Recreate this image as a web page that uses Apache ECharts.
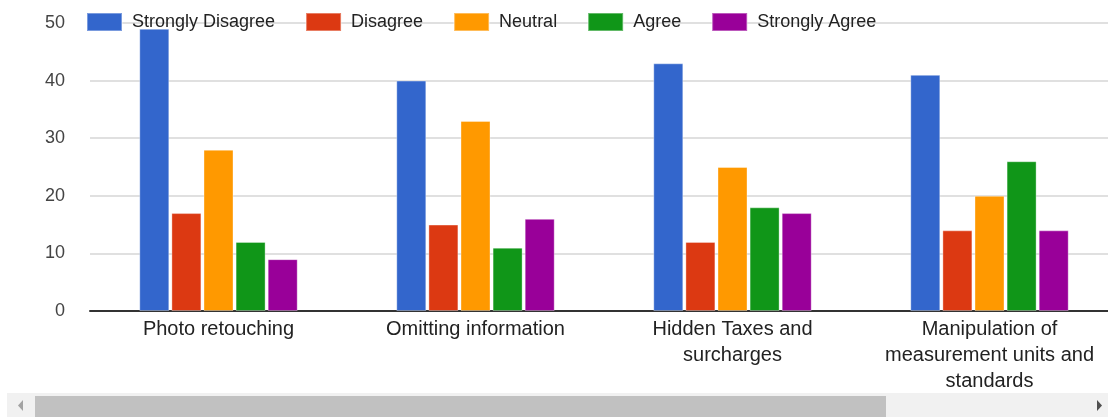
<!DOCTYPE html>
<html>
<head>
<meta charset="utf-8">
<title>Survey</title>
<script src="https://cdn.jsdelivr.net/npm/echarts@6/dist/echarts.min.js"></script>
<style>
  html, body { margin: 0; padding: 0; background: #fff; overflow: hidden; }
  /* the chart is a bit wider than the window, like a scrolled container */
  #main { width: 1118px; height: 417px; }
</style>
</head>
<body>
<div id="main"></div>
<script>
  // categories and answers
  const categories = ['Photo retouching', 'Omitting information', 'Hidden Taxes and\nsurcharges', 'Manipulation of\nmeasurement units and\nstandards'];
  const stronglyDisagree = [49, 40, 43, 41];
  const disagree = [17, 15, 12, 14];
  const neutral = [28, 33, 25, 20];
  const agree = [12, 11, 18, 26];
  const stronglyAgree = [9, 16, 17, 14];
  const yTicks = [0, 10, 20, 30, 40, 50];

  const names = ['Strongly Disagree', 'Disagree', 'Neutral', 'Agree', 'Strongly Agree'];
  const values = [stronglyDisagree, disagree, neutral, agree, stronglyAgree];
  const colors = ['#3366cc', '#dc3912', '#ff9900', '#109618', '#990099'];

  let myChart = echarts.init(document.getElementById('main'));

  let series = [];
  for (let i = 0; i < names.length; i++) {
    series.push({
      name: names[i],
      type: 'bar',
      data: values[i],
      barWidth: 30,
      barGap: '7%',
      itemStyle: {
        color: colors[i],
        borderColor: 'rgba(255,255,255,0.35)',
        borderWidth: 1
      }
    });
  }

  myChart.setOption({
    animation: false,
    textStyle: { fontFamily: '"Liberation Sans", Arial, sans-serif' },
    color: colors,
    legend: {
      data: names,
      left: 81,
      top: 7,
      itemWidth: 35,
      itemHeight: 18,
      itemGap: 30,
      icon: 'rect',
      textStyle: { fontSize: 18, color: '#222', padding: [0, 0, 0, 5] }
    },
    grid: {
      left: 90,
      right: 0,
      top: 23,
      bottom: 106,
      containLabel: false
    },
    xAxis: {
      type: 'category',
      data: categories,
      axisTick: { show: false },
      axisLine: { lineStyle: { color: '#333', width: 2 } },
      axisLabel: { fontSize: 20, color: '#222', lineHeight: 26, margin: 5, interval: 0 }
    },
    yAxis: {
      type: 'value',
      min: yTicks[0],
      max: yTicks[yTicks.length - 1],
      interval: 10,
      axisLine: { show: false },
      axisTick: { show: false },
      axisLabel: { fontSize: 18, color: '#444', margin: 25 },
      splitLine: { lineStyle: { color: '#d6d6d6', width: 1.5 } }
    },
    series: series,
    // fake horizontal scroll bar under the chart
    graphic: [
      { type: 'rect', shape: { x: 7, y: 393, width: 1101, height: 24 }, style: { fill: '#f1f1f1' }, silent: true },
      { type: 'rect', shape: { x: 35, y: 396, width: 851, height: 21 }, style: { fill: '#c1c1c1' }, silent: true },
      { type: 'polygon', shape: { points: [[23, 400], [23, 411], [18, 405.5]] }, style: { fill: '#a3a3a3' }, silent: true },
      { type: 'polygon', shape: { points: [[1097, 400], [1097, 411], [1102, 405.5]] }, style: { fill: '#505050' }, silent: true }
    ]
  });
</script>
</body>
</html>
